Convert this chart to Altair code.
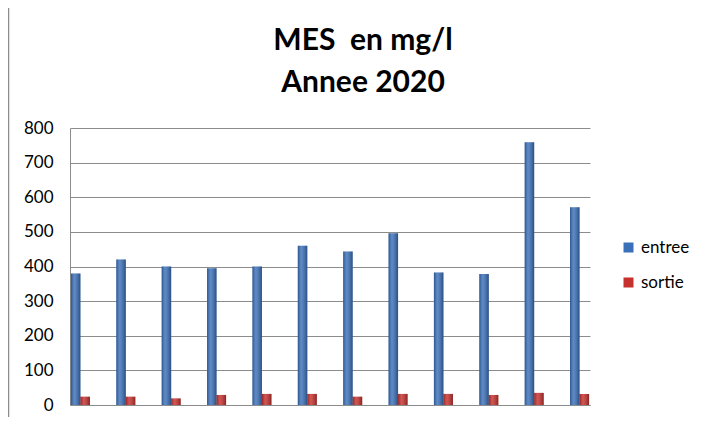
import altair as alt
import pandas as pd

months = ["Jan", "Fev", "Mar", "Avr", "Mai", "Jun", "Jul", "Aou", "Sep", "Oct", "Nov", "Dec"]
entree = [380, 420, 400, 395, 400, 460, 443, 496, 383, 378, 759, 571]
sortie = [24, 24, 19, 29, 32, 32, 24, 32, 32, 29, 35, 32]
series = ["entree", "sortie"]
colors = ["#3A70BA", "#C6302D"]
title_lines = ["MES\u00a0 en mg/l", "Annee 2020"]

rows = []
for m, e, s in zip(months, entree, sortie):
    rows.append({"mois": m, "serie": "entree", "valeur": e})
    rows.append({"mois": m, "serie": "sortie", "valeur": s})
df = pd.DataFrame(rows)

FONT = "Lato"

x_enc = alt.X("mois:N", sort=months,
              scale=alt.Scale(paddingInner=0.58, paddingOuter=0.02),
              axis=alt.Axis(labels=False, ticks=False, title=None, domain=True,
                            domainColor="#8C8C8C", grid=False))
y_enc = alt.Y("valeur:Q", scale=alt.Scale(domain=[0, 800]),
              axis=alt.Axis(values=list(range(0, 801, 100)), title=None, ticks=False,
                            labelPadding=17, labelFontSize=17, labelFont=FONT,
                            labelColor="#000000", grid=True, gridColor="#8C8C8C",
                            domainColor="#8C8C8C"))
xo = alt.XOffset("serie:N", sort=series, scale=alt.Scale(paddingInner=0, paddingOuter=0))

base = alt.Chart(df).mark_bar().encode(
    x=x_enc, y=y_enc, xOffset=xo,
    color=alt.Color("serie:N", sort=series,
                    scale=alt.Scale(domain=series, range=colors),
                    legend=alt.Legend(title=None, orient="none", legendX=550, legendY=111,
                                      symbolType="square", symbolSize=100,
                                      symbolStrokeWidth=0, labelFontSize=17,
                                      labelFont=FONT, labelColor="#000000",
                                      rowPadding=17, labelOffset=4)),
)

shade = alt.Chart(df).mark_bar(
    color=alt.LinearGradient(
        gradient="linear", x1=0, x2=1, y1=0, y2=0,
        stops=[alt.GradientStop(offset=0, color="rgba(0,0,0,0.25)"),
               alt.GradientStop(offset=0.35, color="rgba(255,255,255,0.18)"),
               alt.GradientStop(offset=1, color="rgba(0,0,0,0.3)")])
).encode(x=x_enc, y=y_enc, xOffset=xo)

frame = alt.Chart(pd.DataFrame({"k": [0]})).mark_rule(color="#8C8C8C", strokeWidth=1.5).encode(
    x=alt.value(-61.5), y=alt.value(-120), y2=alt.value(300)
)

chart = alt.layer(base, shade, frame).properties(
    width=520, height=277,
    autosize=alt.AutoSizeParams(type="none"),
    padding={"left": 62, "top": 120, "right": 100, "bottom": 12},
    title=alt.TitleParams(title_lines, anchor="middle", frame="group",
                          dx=33, offset=-91, fontSize=30, font=FONT, fontWeight="bold",
                          lineHeight=42, color="#000000"),
).configure_view(stroke=None)

chart.save("out.html", embed_options={"renderer": "svg", "actions": False})
